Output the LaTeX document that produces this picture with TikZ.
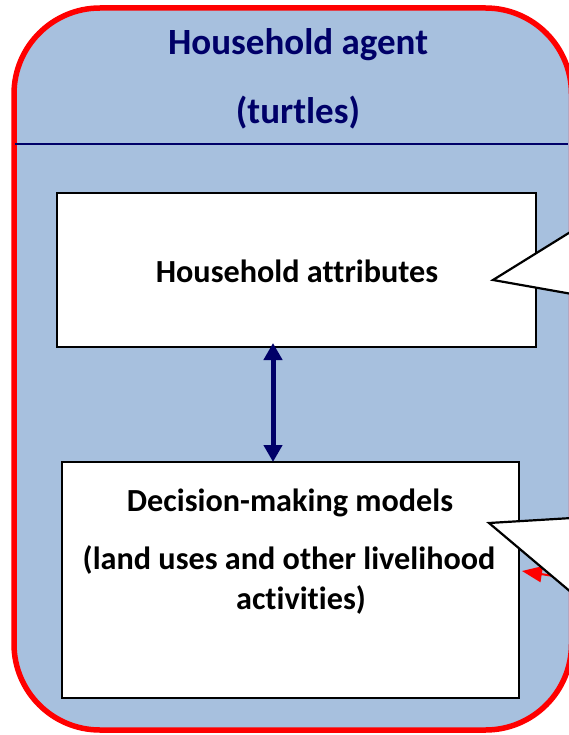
\documentclass[tikz,border=0pt]{standalone}
\usepackage{fontspec}
\setmainfont{Carlito}[Ligatures=NoCommon]
\usetikzlibrary{arrows.meta}
\definecolor{agentblue}{RGB}{167,192,222}
\definecolor{navy}{RGB}{0,0,104}
\definecolor{brightred}{RGB}{255,0,0}
\tikzset{
  titletext/.style={font=\fontsize{37}{44}\selectfont\bfseries, text=navy, inner sep=0pt},
  boxtext/.style={font=\fontsize{32.2}{38}\selectfont\bfseries, text=black, inner sep=0pt},
  whitebox/.style={draw=black, line width=2pt, fill=white},
  callout/.style={draw=black, line width=2.2pt, line join=miter},
}
\begin{document}
\begin{tikzpicture}[x=1pt,y=-1pt]
\useasboundingbox (0,0) rectangle (568,735);
% outer agent container
\draw[brightred, line width=5.5pt, fill=agentblue, rounded corners=86pt] (14,8) rectangle (571.5,730);
\node[titletext] (title1) at (298,45) {Household agent};
\node[titletext] (title2) at (298,113) {(turtles)};
\coordinate (sepL) at (15,144);
\coordinate (sepR) at (568,144);
\draw[navy, line width=2pt] (sepL) -- (sepR);
% boxes
\draw[whitebox] (57,193) rectangle (536,347);
\node[boxtext] (attr) at (297,271) {Household attributes};
\draw[whitebox] (62,462) rectangle (519,698);
\node[boxtext] (dm1) at (290,503) {Decision-making models};
\node[boxtext] (dm2) at (289,560) {(land uses and other livelihood};
\node[boxtext] (dm3) at (301,600) {activities)};
% double arrow
\coordinate (arrTop) at (273,343);
\coordinate (arrBot) at (273,462);
\draw[navy, line width=5pt, {Triangle[width=18pt,length=17pt]}-{Triangle[width=18pt,length=17pt]}] (arrTop) -- (arrBot);
% red arrow (from outside)
\coordinate (redFrom) at (566,578);
\coordinate (redTo) at (522,571);
\draw[brightred, line width=2pt, -{Triangle[width=16pt,length=20pt]}] (redFrom) -- (redTo);
% callouts
\coordinate (c1tip) at (493,280);
\coordinate (c1a) at (572,231);
\coordinate (c1b) at (572,294);
\fill[white] (c1a) -- (c1tip) -- (c1b) -- cycle;
\draw[callout] (c1a) -- (c1tip) -- (c1b);
\coordinate (c2tip) at (489,523);
\coordinate (c2a) at (572,518);
\coordinate (c2b) at (572,593);
\fill[white] (c2a) -- (c2tip) -- (c2b) -- cycle;
\draw[callout] (c2a) -- (c2tip) -- (c2b);
\end{tikzpicture}
\end{document}
